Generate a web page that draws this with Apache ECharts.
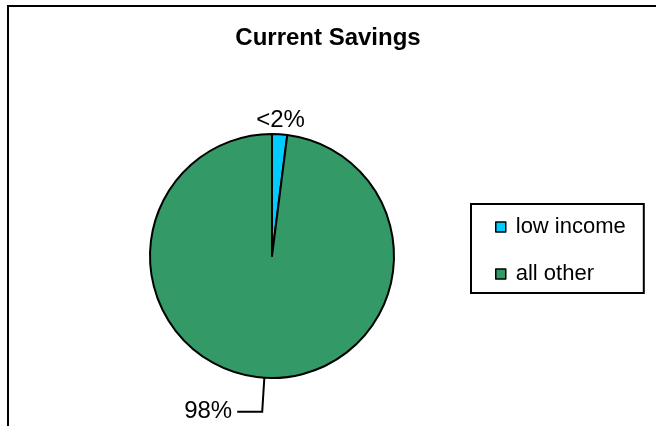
<!DOCTYPE html>
<html>
<head>
<meta charset="utf-8">
<script src="https://cdn.jsdelivr.net/npm/echarts@6/dist/echarts.min.js"></script>
<style>html,body{margin:0;padding:0;background:#fff}#c{width:656px;height:426px}</style>
</head>
<body>
<div id="c"></div>
<script>
var categories = ['low income', 'all other'];
var values = [2, 98];
var labelTexts = ['<2%', '98%'];
var colors = ['#00CCFF', '#339966'];

var chart = echarts.init(document.getElementById('c'), null, {renderer: 'canvas'});
var FONT = 'Arial, "Liberation Sans", sans-serif';
var data = categories.map(function (c, i) {
  var d = {name: c, value: values[i], itemStyle: {color: colors[i]}};
  if (i === 0) {
    d.labelLine = {show: false, length: 14, length2: 0};
  } else {
    d.labelLine = {show: true, length: 34, length2: 25};
  }
  return d;
});
chart.setOption({
  animation: false,
  backgroundColor: '#fff',
  title: {
    text: 'Current Savings',
    left: 'center',
    top: 21,
    textStyle: {fontFamily: FONT, fontWeight: 'bold', fontSize: 24, color: '#000'}
  },
  legend: {
    orient: 'vertical',
    left: 471,
    top: 204,
    padding: [12, 18, 8, 24],
    borderColor: '#000',
    borderWidth: 2,
    itemWidth: 10,
    itemHeight: 10,
    itemGap: 25,
    icon: 'rect',
    itemStyle: {borderColor: '#000', borderWidth: 1.5},
    textStyle: {fontFamily: FONT, fontSize: 22, color: '#000', lineHeight: 20, padding: [0, 0, 0, 5]},
    data: categories
  },
  graphic: [{
    type: 'rect',
    shape: {x: 8, y: 6, width: 700, height: 500},
    style: {fill: 'none', stroke: '#000', lineWidth: 2},
    silent: true
  }],
  series: [{
    type: 'pie',
    center: [272, 256],
    radius: 122,
    startAngle: 90,
    clockwise: true,
    avoidLabelOverlap: false,
    itemStyle: {borderColor: '#000', borderWidth: 2},
    label: {
      show: true,
      position: 'outside',
      fontFamily: FONT,
      fontSize: 24,
      color: '#000',
      formatter: function (p) { return labelTexts[p.dataIndex]; }
    },
    labelLine: {lineStyle: {color: '#000', width: 2}},
    labelLayout: function (p) {
      if (p.dataIndex === 0) {
        return {dx: -p.labelRect.width / 2 - 5, dy: 0};
      }
      return {};
    },
    emphasis: {disabled: true},
    data: data
  }]
});
</script>
</body>
</html>
